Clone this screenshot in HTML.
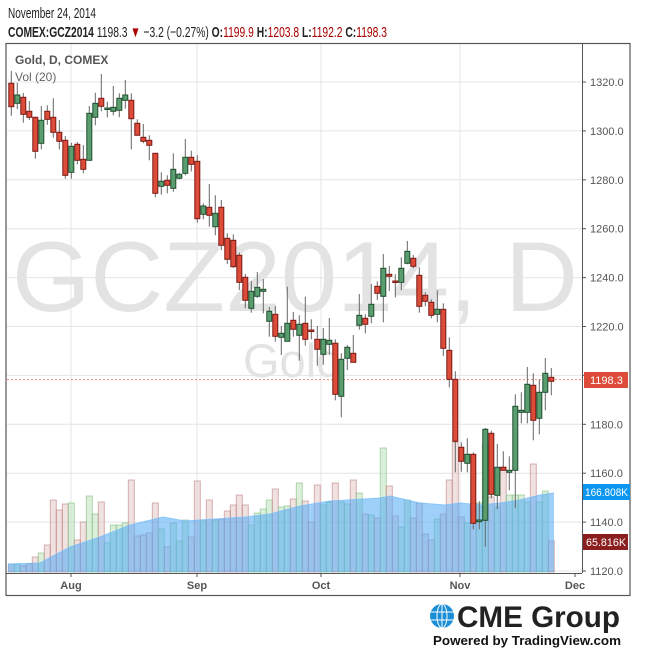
<!DOCTYPE html>
<html><head><meta charset="utf-8"><style>
body{margin:0;background:#fff;width:650px;height:652px;overflow:hidden;font-family:"Liberation Sans",sans-serif}
</style></head><body>
<svg id="s" width="650" height="652" xmlns="http://www.w3.org/2000/svg" style="position:absolute;left:0;top:0">
<text x="8" y="18" font-size="15" fill="#222" textLength="88" lengthAdjust="spacingAndGlyphs">November 24, 2014</text>
<text x="8" y="37" font-size="15" fill="#222" textLength="379" lengthAdjust="spacingAndGlyphs"><tspan font-weight="bold">COMEX:GCZ2014</tspan> 1198.3 <tspan fill="#a00">▼</tspan> −3.2 (−0.27%) <tspan font-weight="bold">O:</tspan><tspan fill="#a00">1199.9</tspan> <tspan font-weight="bold">H:</tspan><tspan fill="#a00">1203.8</tspan> <tspan font-weight="bold">L:</tspan><tspan fill="#a00">1192.2</tspan> <tspan font-weight="bold">C:</tspan><tspan fill="#a00">1198.3</tspan></text>
<g id="g"></g>
</svg>
<script>
var s='';
function L(x1,y1,x2,y2,c,w,extra){s+='<line x1="'+x1+'" y1="'+y1+'" x2="'+x2+'" y2="'+y2+'" stroke="'+c+'" stroke-width="'+(w||1)+'" '+(extra||'')+'/>';}
for(var i=0;i<=10;i++){var y=82+i*48.9;L(7,y,582,y,'#e4e4e4',1);}
[71,197,321,460].forEach(function(x){L(x,44,x,573,'#e4e4e4',1);});
s+='<text x="12" y="311" font-size="99" fill="#e3e3e3" textLength="566" lengthAdjust="spacingAndGlyphs">GCZ2014, D</text>';
s+='<text x="243" y="377" font-size="47" fill="#e3e3e3">Gold</text>';
var C=[[71,83.3,106.7,115.7,'R'],[82.7,95,103.3,109,'G'],[93,97.3,114.3,122.7,'R'],[101,111.3,117.3,120,'R'],[116.7,117.3,151.3,158.7,'R'],[106,120.3,143.3,149.3,'G'],[105.3,111.3,119.3,124.7,'R'],[98.3,117.3,132.3,137.7,'R'],[120,132.3,141.3,149.3,'R'],[136,140.3,175.3,178.7,'R'],[142.7,146.3,172.3,178.7,'G'],[142,144.3,160.3,164.3,'R'],[145,159.3,169.3,173.3,'R'],[106,113.3,160.3,160.3,'G'],[92.7,103.3,117.3,125.3,'G'],[74,98.3,106.3,111.3,'R'],[101.7,108,108.6,117.3,'G'],[86,107.3,111.3,115.3,'G'],[93.3,98.3,110.3,117.3,'G'],[80,95,100.3,108.7,'G'],[93.3,100.3,118.7,149.3,'R'],[119.3,123.3,135.3,135.3,'R'],[124,137.3,141.3,143.3,'R'],[135.3,140.3,145.3,160.3,'R'],[153.3,153.3,193.3,197.3,'R'],[172.3,181.3,186.3,194.7,'G'],[175.3,180.3,185.3,193.3,'R'],[153.3,169.3,188.3,191.7,'G'],[172.7,174.3,178.3,179.3,'G'],[139,157.3,173.3,175.3,'G'],[150.7,157.3,164.3,171.3,'R'],[155.3,161.3,218.7,222.7,'R'],[203.3,206,214.3,219.3,'G'],[184,207.3,215.3,226.7,'R'],[195.3,213.3,226.7,235.3,'G'],[200,207.3,245.3,250,'R'],[233.3,238.3,259.3,264,'R'],[234.3,240.3,266.7,268,'R'],[252.7,255.3,282.3,290,'R'],[274,277.3,300.3,308.3,'R'],[281,291.3,308.3,312.7,'G'],[272,287.3,296.3,298,'G'],[279,289.3,291.3,313.3,'G'],[307,311.3,321.3,336.7,'G'],[306,314.3,336.3,341.7,'R'],[326,333.3,337.3,355,'G'],[286.7,323.3,341.3,341.3,'G'],[312,320.3,329.3,336.7,'R'],[315.3,324.3,335.3,360.7,'G'],[296.7,323.3,339.3,345.7,'R'],[319.3,330,331.3,339.3,'R'],[326,339.3,349.3,365.7,'R'],[328,339.3,354.3,364.7,'G'],[318,340.3,344.3,354.7,'G'],[339.3,343.3,394.3,400.3,'R'],[353.3,359.3,396.3,417.3,'G'],[345,347.3,358.3,370,'G'],[335,353.3,362.3,362.3,'R'],[294,315.3,325.3,329.7,'G'],[314.3,318.3,324.3,333.3,'R'],[284,304.3,316.3,323.3,'G'],[281.3,286.3,293.3,300,'R'],[254,268.3,296.3,322.3,'G'],[266,274.3,276.3,291,'R'],[274.3,281,282.3,297.3,'R'],[257.3,268.3,282.3,290.3,'G'],[241,251.3,263.3,264.3,'G'],[255,258.3,266.3,268.3,'R'],[267.3,275.3,306.3,312.7,'R'],[292.3,295.3,301.3,306.3,'R'],[299.3,302.3,315.3,318.3,'R'],[290.3,309.3,314.3,322.3,'G'],[303.3,309.3,348.3,356,'R'],[337.3,350.3,379.3,387.3,'R'],[371.3,379.3,441.3,472.3,'R'],[442.3,447.3,461.3,471.7,'R'],[438.3,454.3,463.3,472.3,'G'],[452.3,454.3,523.3,529.3,'R'],[501.3,520,521.7,529.3,'G'],[428,429.3,520.3,546.7,'G'],[430.7,433.3,494.3,498.3,'R'],[444,467.3,495.3,509.3,'G'],[451.3,467.3,470.3,470.3,'R'],[456.3,470.3,472.3,490.3,'G'],[394.3,406.3,470.3,508.3,'G'],[392.3,410.3,412.3,423.3,'G'],[367,384.3,412.3,423.3,'G'],[373.3,385.3,420.3,440.3,'R'],[379.3,392.3,418.3,434.3,'G'],[358,373.3,392.3,410.3,'G'],[368,377.3,381.3,395.3,'R']];
var V=[564,564,566,564,557,553,545,500,510,504,503,540,522,496,514,502,543,525,525,523,480,536,535,533,503,529,547,523,541,520,537,481,520,500,520,519,511,505,495,505,525,513,509,500,489,507,506,499,483,501,522,485,505,502,483,502,504,480,493,514,515,518,448,486,516,527,500,518,503,534,540,519,514,480,442,517,523,503,503,444,497,507,467,495,495,495,502,464,502,491,541];
var B=572;
for(var i=0;i<91;i++){var x=11.3+6*i,r=C[i][4]=='R';
s+='<rect x="'+(x-3)+'" y="'+V[i]+'" width="6" height="'+(B-V[i])+'" fill="'+(r?'rgba(225,190,190,0.45)':'rgba(190,225,190,0.55)')+'" stroke="'+(r?'rgba(190,130,130,0.6)':'rgba(130,190,130,0.6)')+'" stroke-width="1"/>';}
var M=[[8,564],[40,563],[70,547],[100,537],[130,525],[163,517],[185,521],[200,520],[245,517],[270,514],[300,506],[330,501],[380,498],[390,496],[420,503],[445,505],[460,503],[480,505],[500,503],[520,500],[540,495],[554,493]];
var p='M8,'+B;M.forEach(function(q){p+=' L'+q[0]+','+q[1];});p+=' L554,'+B+' Z';
s+='<path d="'+p+'" fill="rgba(80,170,245,0.55)"/>';
var pl='M'+M.map(function(q){return q[0]+','+q[1]}).join(' L');
s+='<path d="'+pl+'" fill="none" stroke="rgba(120,190,250,0.8)" stroke-width="1"/>';
L(7,379.6,582,379.6,'#f08a7a',1,'stroke-dasharray="2,2"');
for(var i=0;i<91;i++){var c=C[i],x=11.3+6*i,r=c[4]=='R';
L(x,c[0],x,c[3],'#666',1);
var h=Math.max(c[2]-c[1],1.5);
s+='<rect x="'+(x-2.5)+'" y="'+c[1]+'" width="5" height="'+h+'" fill="'+(r?'#dd4b39':'#5a9e70')+'" stroke="'+(r?'#7a1a14':'#1f4d2e')+'" stroke-width="1"/>';}
s+='<rect x="6" y="43.5" width="624" height="552" fill="none" stroke="#555" stroke-width="1.2"/>';
L(582.5,44,582.5,573,'#555',1);
L(6,573.5,582,573.5,'#555',1);
[['Aug',71],['Sep',197],['Oct',321],['Nov',460],['Dec',575]].forEach(function(t){L(t[1],573,t[1],577,'#555',1);
s+='<text x="'+t[1]+'" y="589" font-size="11" fill="#555" text-anchor="middle" font-weight="bold">'+t[0]+'</text>';});
for(var i=0;i<=10;i++){var y=82+i*48.9;L(582,y,586,y,'#555',1);
s+='<text x="590" y="'+(y+4)+'" font-size="11" fill="#555">'+(1320-20*i).toFixed(1)+'</text>';}
s+='<rect x="584" y="372" width="44" height="16" fill="#dd4b39"/><text x="590" y="384" font-size="11" fill="#fff">1198.3</text>';
s+='<rect x="583" y="484" width="47" height="16" fill="#0b96f0"/><text x="585" y="496" font-size="11" fill="#fff" textLength="43" lengthAdjust="spacingAndGlyphs">166.808K</text>';
s+='<rect x="583" y="534" width="45" height="16" fill="#8b1f1f"/><text x="586" y="546" font-size="11" fill="#fff" textLength="40" lengthAdjust="spacingAndGlyphs">65.816K</text>';
s+='<text x="15" y="64" font-size="12" font-weight="bold" fill="#555">Gold, D, COMEX</text>';
s+='<text x="15" y="81" font-size="12" fill="#666">Vol (20)</text>';
s+='<circle cx="442" cy="616" r="12" fill="#1a8fd8"/><g stroke="#fff" stroke-width="1" fill="none"><ellipse cx="442" cy="616" rx="5" ry="12"/><line x1="430" y1="612" x2="454" y2="612"/><line x1="430" y1="620" x2="454" y2="620"/><line x1="442" y1="604" x2="442" y2="628"/></g>';
s+='<text x="457" y="627" font-size="30" font-weight="bold" fill="#222" textLength="163" lengthAdjust="spacingAndGlyphs">CME Group</text>';
s+='<text x="433" y="645" font-size="13" font-weight="bold" fill="#111" textLength="188" lengthAdjust="spacingAndGlyphs">Powered by TradingView.com</text>';
document.getElementById('g').innerHTML=s;
</script>
</body></html>
